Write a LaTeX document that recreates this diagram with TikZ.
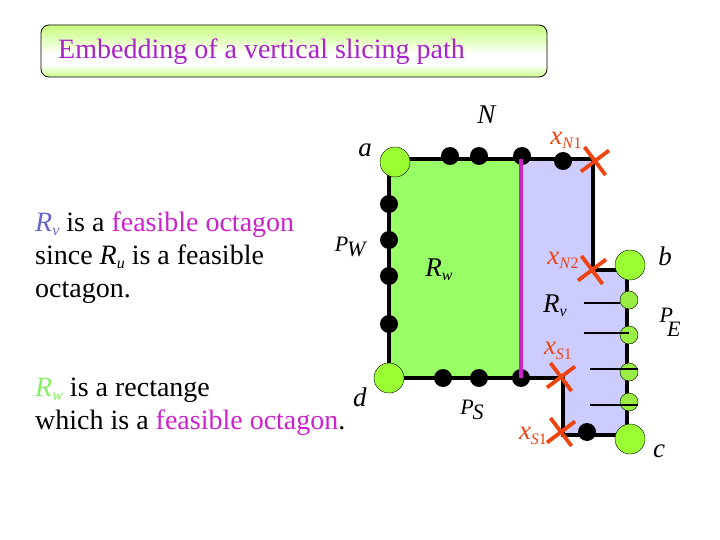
\documentclass[tikz,border=0pt]{standalone}
\usepackage{fontspec}
\setmainfont{Liberation Serif}
\usetikzlibrary{shapes.misc}
\definecolor{rwgreen}{HTML}{99FF66}
\definecolor{rvblue}{HTML}{CCCCFF}
\definecolor{cornergreen}{HTML}{99FF33}
\definecolor{portgreen}{HTML}{99EE44}
\definecolor{slicepurple}{HTML}{CC22CC}
\definecolor{titlepurple}{HTML}{AA22CC}
\definecolor{titlegreen}{HTML}{CCFF88}
\definecolor{xred}{HTML}{EE4411}
\definecolor{rvtext}{HTML}{6666CC}
\definecolor{rwtext}{HTML}{88EE66}
\pgfdeclareverticalshading{titleshade}{100bp}{color(0bp)=(titlegreen); color(25bp)=(titlegreen); color(37bp)=(white); color(47bp)=(white); color(72bp)=(titlegreen); color(100bp)=(titlegreen)}
\newcommand{\sbs}[2]{\textit{#1}\raisebox{-0.35ex}{\fontsize{16}{16}\selectfont\textit{#2}}}
\newcommand{\xsbs}[2]{\textit{x}\raisebox{-0.35ex}{\fontsize{16}{16}\selectfont\textit{#1}#2}}
\tikzset{
  titlebox/.style={draw,rectangle,rounded corners=8pt,minimum width=506pt,minimum height=52pt,thick,shading=titleshade},
  corner/.style={circle,draw,thin,inner sep=0pt,minimum size=30pt,fill=cornergreen},
  port/.style={circle,draw,thin,inner sep=0pt,minimum size=18pt,fill=portgreen},
  dotnode/.style={circle,fill=black,inner sep=0pt,minimum size=18pt},
  xmark/.style={cross out,draw=xred,line width=3.8pt,inner sep=0pt,minimum size=21pt,rotate=-8},
  edge/.style={line width=3.6pt,black},
  tick/.style={line width=2.6pt,black},
  slice/.style={line width=4pt,slicepurple},
  lbl/.style={font=\fontsize{28}{33}\selectfont,inner sep=0pt,align=left},
  pinlbl/.style={lbl,font=\fontsize{27}{30}\selectfont},
  smalllbl/.style={lbl,font=\fontsize{22}{26}\selectfont},
  xlbl/.style={pinlbl,text=xred}
}
\begin{document}
\begin{tikzpicture}[x=1pt,y=-1pt]
  \useasboundingbox (0,0) rectangle (720,540);
  % Title
  \node[titlebox] (title) at (294,51) {};
  \node[lbl,anchor=base west,text=titlepurple] (titletext) at (58,59) {Embedding of a vertical slicing path};

  % Outline corners
  \coordinate (tl) at (389,159);
  \coordinate (tm) at (521,159);
  \coordinate (tr) at (593,159);
  \coordinate (mr) at (593,270);
  \coordinate (be) at (627,270);
  \coordinate (ce) at (627,435);
  \coordinate (cr) at (563,435);
  \coordinate (br) at (563,378);
  \coordinate (bm) at (521,378);
  \coordinate (bl) at (389,378);

  % Regions
  \fill[rvblue] (tm) -- (tr) -- (mr) -- (be) -- (ce) -- (cr) -- (br) -- (bm) -- cycle;
  \fill[rwgreen] (tl) -- (tm) -- (bm) -- (bl) -- cycle;

  % Outline
  \draw[edge] (tl) -- (tr) -- (mr) -- (be) -- (ce) -- (cr) -- (br) -- (bl) -- cycle;

  % Black terminals
  \foreach \p/\q in {ntop1/450,ntop2/479,ntop3/522}
    \node[dotnode] (\p) at (\q,156) {};
  \node[dotnode] (ntop4) at (563,161) {};
  \foreach \p/\q in {w1/204,w2/240,w3/276,w4/324}
    \node[dotnode] (\p) at (389,\q) {};
  \foreach \p/\q in {s1/443,s2/479,s3/521}
    \node[dotnode] (\p) at (\q,378) {};
  \node[dotnode] (s4) at (587,432) {};

  % Slicing path
  \draw[slice] (tm) -- (bm);

  % Crosses
  \node[xmark] (xn1) at (595,161) {};
  \node[xmark] (xn2) at (592,270) {};
  \node[xmark] (xs1) at (561,377) {};
  \node[xmark] (xs2) at (561,432) {};

  % Ports on the east side
  \foreach \p/\q in {e1/300,e2/335,e3/372,e4/402}
    \node[port] (\p) at (629,\q) {};
  \coordinate (t1) at (584,303);
  \coordinate (t2) at (584,333);
  \coordinate (t3) at (590,369);
  \coordinate (t4) at (590,405);
  \draw[tick] (t1) -- (t1 -| e1.west);
  \draw[tick] (t2) -- (t2 -| e2.center);
  \draw[tick] (t3) -- (t3 -| e3.east);
  \draw[tick] (t4) -- (t4 -| e4.east);

  % Corner terminals
  \node[corner] (a) at (395,162) {};
  \node[corner] (b) at (630,265) {};
  \node[corner] (c) at (630,439) {};
  \node[corner] (d) at (389,378) {};

  % Labels
  \node[pinlbl] (la) at (365,150) {\textit{a}};
  \node[pinlbl] (lb) at (665,256) {\textit{b}};
  \node[pinlbl] (lc) at (659,451) {\textit{c}};
  \node[pinlbl] (ld) at (360,397) {\textit{d}};
  \node[pinlbl] (ln) at (487,115) {\textit{N}};
  \node[smalllbl] (lpw) at (351,247) {\textit{P}\kern-1pt\raisebox{-5pt}{\textit{W}}};
  \node[smalllbl] (lpe) at (670,322) {\textit{P}\kern-6pt\raisebox{-14pt}{\textit{E}}};
  \node[smalllbl] (lps) at (472,410) {\textit{P}\kern-1pt\raisebox{-5pt}{\textit{S}}};
  \node[pinlbl] (lrw) at (439,270) {\sbs{R}{w}};
  \node[pinlbl] (lrv) at (555,306) {\sbs{R}{v}};
  \node[xlbl] (lxn1) at (566,140) {\xsbs{N}{1}};
  \node[xlbl] (lxn2) at (563,260) {\xsbs{N}{2}};
  \node[xlbl] (lxs1) at (558,351) {\xsbs{S}{1}};
  \node[xlbl] (lxs2) at (533,436) {\xsbs{S}{1}};

  % Notes
  \node[lbl,anchor=base west] (note1) at (35,297) {\textcolor{rvtext}{\sbs{R}{v}} is a \textcolor{slicepurple}{feasible octagon}\\since \sbs{R}{u} is a feasible\\octagon.};
  \node[lbl,anchor=base west] (note2) at (35,429) {\textcolor{rwtext}{\sbs{R}{w}} is a rectange\\which is a \textcolor{slicepurple}{feasible octagon}.};
\end{tikzpicture}
\end{document}
